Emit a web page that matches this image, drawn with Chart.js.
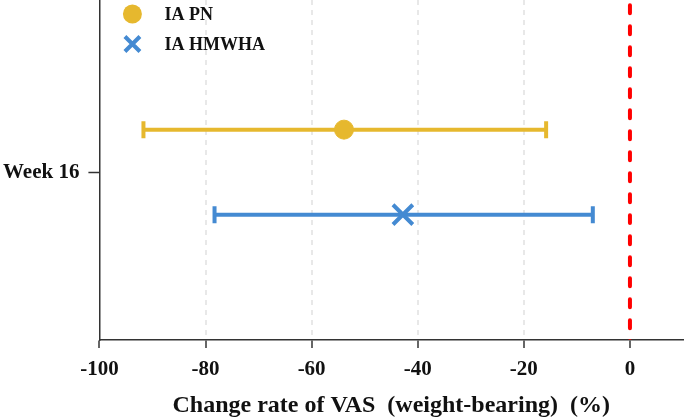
<!DOCTYPE html>
<html>
<head>
<meta charset="utf-8">
<script src="https://cdn.jsdelivr.net/npm/chart.js@4"></script>
<style>
  html, body { margin: 0; padding: 0; background: #fff; }
  #wrap { width: 685px; height: 420px; }
</style>
</head>
<body>
<div id="wrap"><canvas id="forestChart"></canvas></div>
<script>
const groups = ['IA PN', 'IA HMWHA'];
const means = [-53.9, -42.8];
const lower = [-91.7, -78.3];
const upper = [-15.8, -7.0];
const rowPos = [1, -1];
const colors = ['rgb(230, 184, 46)', 'rgb(68, 138, 210)'];
const markers = ['circle', 'crossRot'];
const xTicks = [-100, -80, -60, -40, -20, 0];
const yTickLabels = ['Week 16'];

const serif = "'Liberation Serif', 'Times New Roman', serif";
const ctx = document.getElementById('forestChart');

const datasets = [];
groups.forEach((g, i) => {
  datasets.push({
    label: g,
    data: [{ x: means[i], y: rowPos[i] }],
    showLine: false,
    pointStyle: markers[i],
    pointRadius: i === 0 ? 9.5 : 14,
    pointBorderWidth: i === 0 ? 1 : 4,
    borderColor: colors[i],
    backgroundColor: colors[i],
    order: 0
  });
});
groups.forEach((g, i) => {
  datasets.push({
    label: g + ' CI',
    data: [{ x: lower[i], y: rowPos[i] }, { x: upper[i], y: rowPos[i] }],
    showLine: true,
    borderColor: colors[i],
    borderWidth: 4,
    pointStyle: 'line',
    rotation: 90,
    pointRadius: 8.5,
    pointBorderWidth: 4,
    pointBorderColor: colors[i],
    order: 1
  });
});
// reference line at 0, drawn top to bottom
datasets.push({
  label: 'zero',
  data: [{ x: 0, y: 4 }, { x: 0, y: -4 }],
  showLine: true,
  borderColor: 'rgb(255, 0, 0)',
  borderWidth: 4,
  borderDash: [8, 13],
  borderDashOffset: -3,
  borderCapStyle: 'round',
  pointRadius: 0,
  order: 2
});

// legend drawn inside the plot, top-left, like the original figure
const markerLegend = {
  id: 'markerLegend',
  afterDatasetsDraw(chart) {
    const c = chart.ctx;
    const left = chart.chartArea.left;
    const top = chart.chartArea.top;
    c.save();
    groups.forEach((g, i) => {
      const cx = left + 33;
      const cy = top + 14 + i * 30;
      c.fillStyle = colors[i];
      c.strokeStyle = colors[i];
      if (markers[i] === 'circle') {
        c.beginPath();
        c.arc(cx, cy, 9.5, 0, Math.PI * 2);
        c.fill();
      } else {
        const h = 7.5;
        c.lineWidth = 4;
        c.beginPath();
        c.moveTo(cx - h, cy - h); c.lineTo(cx + h, cy + h);
        c.moveTo(cx - h, cy + h); c.lineTo(cx + h, cy - h);
        c.stroke();
      }
      c.fillStyle = '#111';
      c.font = 'bold 18px ' + serif;
      c.textBaseline = 'middle';
      c.fillText(g, left + 65, cy + 1);
    });
    c.restore();
  }
};

// axes run to the canvas edge in the original, so drop the label overhang padding
const noOverhang = (scale) => {
  scale.paddingTop = 0;
  scale.paddingBottom = 0;
  scale.paddingLeft = 0;
  scale.paddingRight = 0;
};

new Chart(ctx, {
  type: 'scatter',
  data: { datasets: datasets },
  plugins: [markerLegend],
  options: {
    responsive: true,
    maintainAspectRatio: false,
    animation: false,
    layout: { autoPadding: false, padding: { top: 0, right: 2, left: -6, bottom: 0 } },
    plugins: {
      tooltip: { enabled: false },
      legend: { display: false }
    },
    scales: {
      x: {
        type: 'linear',
        min: -100,
        max: 10,
        afterBuildTicks: (axis) => { axis.ticks = xTicks.map(v => ({ value: v })); },
        afterFit: noOverhang,
        ticks: {
          color: '#111',
          padding: 9,
          font: { family: serif, size: 21, weight: 'bold' }
        },
        grid: {
          color: (c) => (c.tick && (c.tick.value === -100 || c.tick.value === 0)) ? 'rgba(0,0,0,0)' : '#e8e8e8',
          lineWidth: 2,
          tickColor: '#333',
          tickLength: 8,
          tickWidth: 1.5
        },
        border: { color: '#333', width: 1.5, dash: [5, 5] },
        title: {
          display: true,
          text: 'Change rate of VAS  (weight-bearing)  (%)',
          color: '#111',
          font: { family: serif, size: 24, weight: 'bold' },
          padding: { top: 0, bottom: 0 }
        }
      },
      y: {
        type: 'linear',
        min: -3.95,
        max: 4.05,
        afterBuildTicks: (axis) => { axis.ticks = [{ value: 0 }]; },
        afterFit: noOverhang,
        ticks: {
          color: '#111',
          padding: 9,
          font: { family: serif, size: 21, weight: 'bold' },
          callback: () => yTickLabels[0]
        },
        grid: {
          drawOnChartArea: false,
          tickColor: '#333',
          tickLength: 11,
          tickWidth: 1.5
        },
        border: { color: '#333', width: 1.5 }
      }
    }
  }
});
</script>
</body>
</html>
